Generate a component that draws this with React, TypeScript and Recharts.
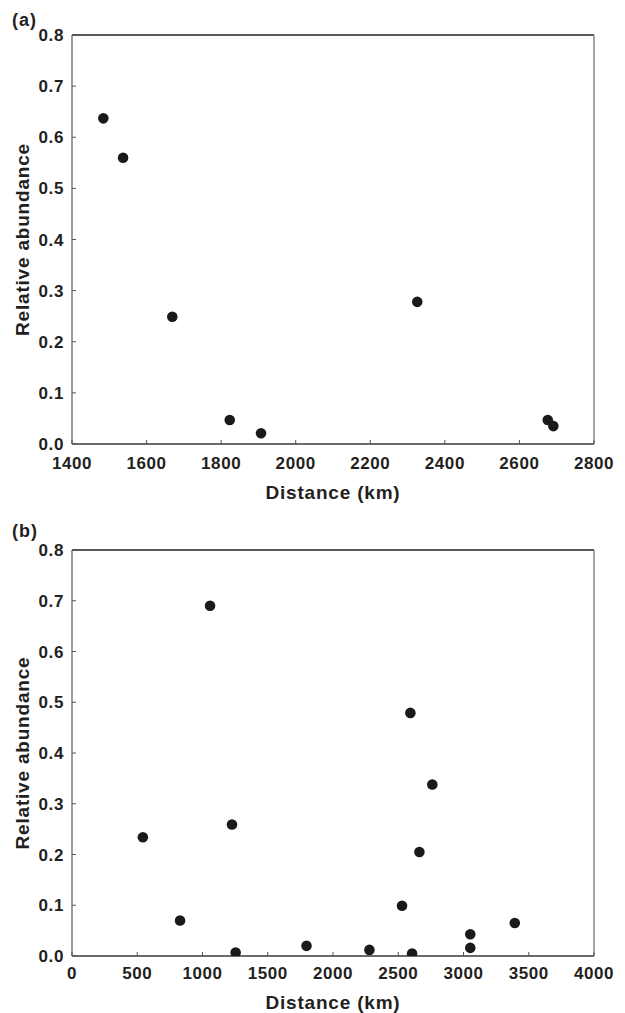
import React from 'react';
import { ScatterChart, Scatter, XAxis, YAxis, ZAxis, ReferenceLine } from 'recharts';

const aDistance = [1484, 1537, 1669, 1823, 1907, 2326, 2676, 2691];
const aAbundance = [0.637, 0.56, 0.249, 0.047, 0.021, 0.278, 0.047, 0.035];

const bDistance = [543, 828, 1058, 1226, 1254, 1797, 2279, 2529, 2593, 2606, 2662, 2761, 3052, 3052, 3393];
const bAbundance = [0.234, 0.07, 0.69, 0.259, 0.007, 0.02, 0.012, 0.099, 0.479, 0.005, 0.205, 0.338, 0.043, 0.016, 0.065];

const aXTicks = [1400, 1600, 1800, 2000, 2200, 2400, 2600, 2800];
const bXTicks = [0, 500, 1000, 1500, 2000, 2500, 3000, 3500, 4000];
const yTicks = [0, 0.1, 0.2, 0.3, 0.4, 0.5, 0.6, 0.7, 0.8];

const aData = aDistance.map((d, i) => ({ x: d, y: aAbundance[i] }));
const bData = bDistance.map((d, i) => ({ x: d, y: bAbundance[i] }));

const FONT = 'Liberation Sans, Arial, Helvetica, sans-serif';
const TEXT = '#231f20';

const makeXTick = (m: number) => (props: any) => {
  const { x, y, payload } = props;
  return (
    <g>
      <line x1={x} x2={x} y1={y - m} y2={y - m - 4} stroke="#555" strokeWidth={1} />
      <text x={x} y={y} dy="0.71em" textAnchor="middle" fill={TEXT}
        style={{ fontFamily: FONT, fontWeight: 700, fontSize: 17, letterSpacing: 0.6 }}>
        {payload.value}
      </text>
    </g>
  );
};

const makeYTick = (m: number) => (props: any) => {
  const { x, y, payload } = props;
  return (
    <g>
      <line x1={x + m} x2={x + m + 4} y1={y} y2={y} stroke="#555" strokeWidth={1} />
      <text x={x} y={y} dy="0.36em" textAnchor="end" fill={TEXT}
        style={{ fontFamily: FONT, fontWeight: 700, fontSize: 17, letterSpacing: 0.6 }}>
        {Number(payload.value).toFixed(1)}
      </text>
    </g>
  );
};

const titleStyle = { fontFamily: FONT, fontWeight: 700, fontSize: 19, letterSpacing: 0.8, fill: TEXT } as any;

function Panel(props: {
  data: { x: number; y: number }[];
  xTicks: number[];
  xDomain: [number, number];
  height: number;
  xHeight: number;
  bottom: number;
  xMargin: number;
  titleOffset: number;
}) {
  const { data, xTicks, xDomain, height, xHeight, bottom, xMargin, titleOffset } = props;
  return (
    <ScatterChart width={625} height={height} margin={{ top: 35, right: 31, bottom, left: 0 }}>
      <XAxis
        type="number"
        dataKey="x"
        domain={xDomain}
        ticks={xTicks}
        allowDataOverflow
        height={xHeight}
        tickSize={0}
        tickMargin={xMargin}
        tickLine={false}
        axisLine={{ stroke: '#3a3a3a', strokeWidth: 1.5 }}
        tick={makeXTick(xMargin)}
        interval={0}
        label={{ value: 'Distance (km)', position: 'insideBottom', offset: titleOffset, style: titleStyle }}
      />
      <YAxis
        type="number"
        dataKey="y"
        domain={[0, 0.8]}
        ticks={yTicks}
        allowDataOverflow
        width={72}
        tickSize={0}
        tickMargin={8}
        tickLine={false}
        axisLine={{ stroke: '#7a7a7a', strokeWidth: 1.5 }}
        tick={makeYTick(8)}
        interval={0}
        label={{ value: 'Relative abundance', angle: -90, position: 'insideLeft', offset: 22, style: { ...titleStyle, textAnchor: 'middle' } }}
      />
      <ZAxis range={[88, 88]} />
      <ReferenceLine y={0.8} stroke="#222" strokeWidth={1.5} ifOverflow="extendDomain" />
      <ReferenceLine x={xDomain[1]} stroke="#8a8a8a" strokeWidth={1.5} ifOverflow="extendDomain" />
      <Scatter data={data} fill="#1a1a1a" isAnimationActive={false} />
    </ScatterChart>
  );
}

const panelLabel: React.CSSProperties = {
  position: 'absolute',
  left: 12,
  fontFamily: FONT,
  fontWeight: 700,
  fontSize: 18,
  letterSpacing: 1,
  lineHeight: '20px',
  color: TEXT,
};

export default function App() {
  return (
    <div style={{ position: 'absolute', left: 0, top: 0, width: 625, height: 1013, background: '#fff' }}>
      <div style={{ position: 'absolute', left: 0, top: 0 }}>
        <Panel data={aData} xTicks={aXTicks} xDomain={[1400, 2800]} height={515} xHeight={65} bottom={6} xMargin={13} titleOffset={10} />
      </div>
      <div style={{ position: 'absolute', left: 0, top: 515 }}>
        <Panel data={bData} xTicks={bXTicks} xDomain={[0, 4000]} height={498} xHeight={57} bottom={0} xMargin={11} titleOffset={4} />
      </div>
      <div style={{ ...panelLabel, top: 10 }}>(a)</div>
      <div style={{ ...panelLabel, top: 521 }}>(b)</div>
    </div>
  );
}
